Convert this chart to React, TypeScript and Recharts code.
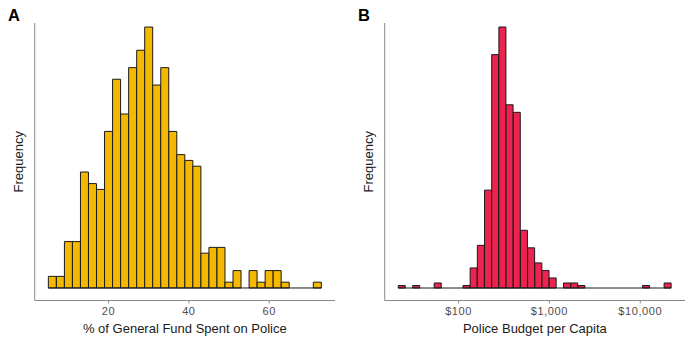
import React from 'react';
import {BarChart, Bar, XAxis, YAxis, ReferenceLine} from 'recharts';

// Panel A: share of general fund spent on police, 2-point bins (bin centres)
const shareBins = [6, 8, 10, 12, 14, 16, 18, 20, 22, 24, 26, 28, 30, 32, 34, 36, 38, 40, 42, 44, 46, 48, 50, 52, 54, 56, 58, 60, 62, 64, 66, 68, 70, 72];
const shareCounts = [2, 2, 8, 8, 20, 18, 17, 27, 36, 30, 38, 41, 45, 35, 38, 27, 23, 22, 21, 6, 7, 7, 1, 3, 0, 3, 1, 3, 3, 1, 0, 0, 0, 1];
const shareEdges = [5, 73];
const shareTicks = [20, 40, 60];

// Panel B: police budget per capita, log-spaced bins (bin centres in dollars)
const budgetBins = [23.7, 28.5, 34.2, 41.0, 49.2, 59.0, 70.8, 85.0, 102, 122.3, 146.7, 176.1, 211.3, 253.5, 304.1, 364.9, 437.8, 525.3, 630.2, 756.1, 907.2, 1088, 1306, 1566, 1879, 2255, 2705, 3246, 3894, 4672, 5606, 6726, 8070, 9681, 11614, 13935, 16720, 20060];
const budgetCounts = [1, 0, 1, 0, 0, 2, 0, 0, 0, 1, 8, 17, 39, 93, 104, 73, 70, 23, 16, 10, 7, 4, 0, 2, 2, 1, 0, 0, 0, 0, 0, 0, 0, 0, 1, 0, 0, 2];
const budgetEdges = [21.63, 21975];
const budgetTicks = [100, 1000, 10000];

const FONT = '"Liberation Sans", Arial, Helvetica, sans-serif';
const AXIS_GREY = '#8a8a8a';

interface HistogramProps {
    bins: number[];
    counts: number[];
    edges: number[];
    ticks: number[];
    xDomain: [number, number];
    yDomain: [number, number];
    fill: string;
    title: string;
    logScale?: boolean;
    tickFormatter?: (v: number) => string;
}

function Histogram({bins, counts, edges, ticks, xDomain, yDomain, fill, title, logScale, tickFormatter}: HistogramProps) {
    const data = bins.map((x, i) => ({x, count: counts[i]}));

    return (
        <BarChart
            width={350}
            height={350}
            data={data}
            barCategoryGap={0}
            margin={{top: 23, right: 15, bottom: 0, left: 0}}
        >
            <XAxis
                dataKey="x"
                type="number"
                scale={logScale ? 'log' : 'linear'}
                domain={xDomain}
                allowDataOverflow
                ticks={ticks}
                tickFormatter={tickFormatter}
                height={49.5}
                tickSize={3}
                tickMargin={4}
                axisLine={{stroke: AXIS_GREY}}
                tickLine={{stroke: AXIS_GREY}}
                tick={{fill: '#4d4d4d', fontSize: 11, letterSpacing: 0.6}}
                label={{value: title, position: 'insideBottom', offset: 17, fill: '#1a1a1a', fontSize: 13}}
            />
            <YAxis
                type="number"
                domain={yDomain}
                allowDataOverflow
                width={34.7}
                tick={false}
                tickLine={false}
                axisLine={{stroke: AXIS_GREY}}
            />
            <ReferenceLine
                segment={[{x: edges[0], y: 0}, {x: edges[1], y: 0}]}
                stroke="#1a1a1a"
                strokeWidth={1}
            />
            <Bar
                dataKey="count"
                fill={fill}
                stroke="#1a1a1a"
                strokeWidth={1}
                isAnimationActive={false}
            />
        </BarChart>
    );
}

const dollars = (v: number) => `$${v.toLocaleString('en-US')}`;

export default function App() {
    return (
        <div style={{position: 'absolute', left: 0, top: 0, width: 700, height: 350, background: '#fff', fontFamily: FONT}}>
            <div style={{position: 'absolute', left: 0, top: 0}}>
                <Histogram
                    bins={shareBins}
                    counts={shareCounts}
                    edges={shareEdges}
                    ticks={shareTicks}
                    xDomain={[1.6, 76.4]}
                    yDomain={[-2.16, 45.7]}
                    fill="#F4B800"
                    title="% of General Fund Spent on Police"
                />
            </div>
            <div style={{position: 'absolute', left: 350, top: 0}}>
                <Histogram
                    bins={budgetBins}
                    counts={budgetCounts}
                    edges={budgetEdges}
                    ticks={budgetTicks}
                    xDomain={[15.35, 31120]}
                    yDomain={[-4.98, 105.6]}
                    fill="#EC234F"
                    title="Police Budget per Capita"
                    logScale
                    tickFormatter={dollars}
                />
            </div>
            {/* panel letters and y titles */}
            <svg width={700} height={350} style={{position: 'absolute', left: 0, top: 0, pointerEvents: 'none'}}>
                <text x={8} y={21} fontSize={16.5} fontWeight="bold" fill="#000">A</text>
                <text x={358} y={21} fontSize={16.5} fontWeight="bold" fill="#000">B</text>
                <text x={23} y={161.75} fontSize={13} fill="#1a1a1a" textAnchor="middle" transform="rotate(-90 23 161.75)">Frequency</text>
                <text x={373} y={161.75} fontSize={13} fill="#1a1a1a" textAnchor="middle" transform="rotate(-90 373 161.75)">Frequency</text>
            </svg>
        </div>
    );
}
